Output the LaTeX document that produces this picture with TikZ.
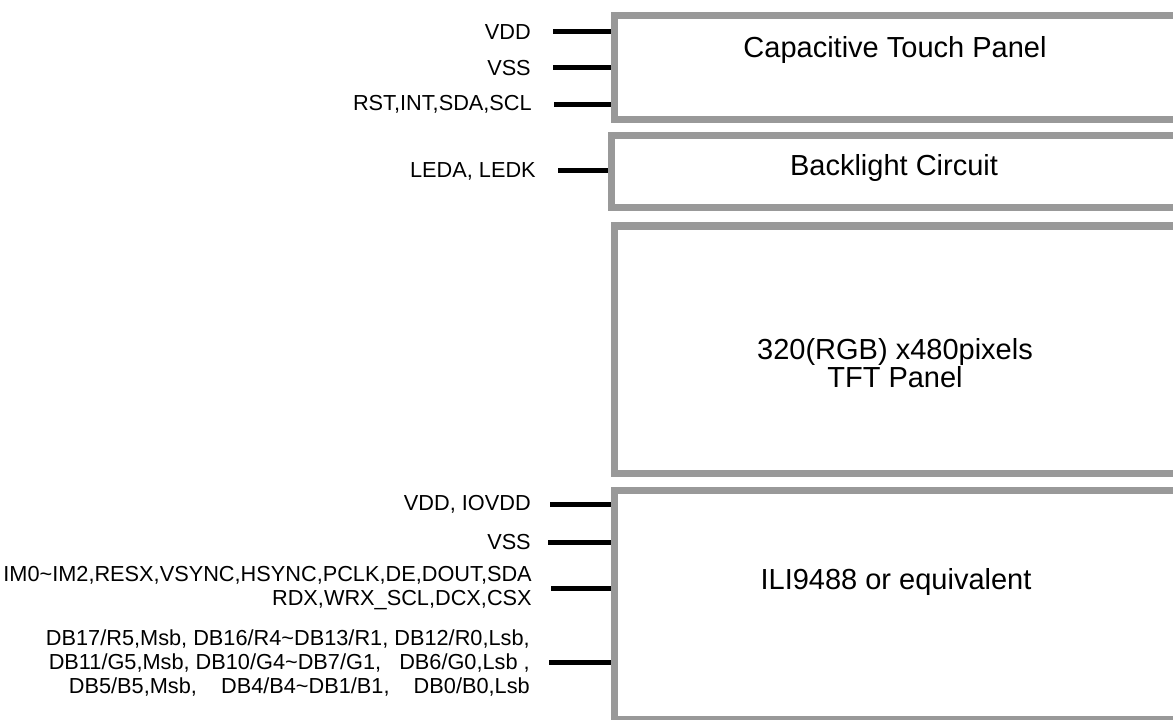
\documentclass[tikz,border=0pt]{standalone}
\usepackage{fontspec}
\setmainfont{Liberation Sans}
\definecolor{boxgray}{RGB}{153,153,153}
\begin{document}
\begin{tikzpicture}[x=0.75pt,y=-0.75pt,
  panel/.style={draw=boxgray, line width=5.6pt, inner sep=0pt, anchor=north west, minimum width=450pt},
  lead/.style={line width=3.75pt, black},
  pin/.style={anchor=east, inner sep=0pt, font=\fontsize{16.3pt}{17.9pt}\selectfont, align=right},
  title/.style={inner sep=0pt, font=\fontsize{21.75pt}{19.5pt}\selectfont, align=center}]
\useasboundingbox (0,0) rectangle (1173,720);
\clip (0,0) rectangle (1173,720);

% boxes
\node[panel, minimum height=78pt] (tp) at (611,12) {};
\node[panel, minimum height=54pt] (bl) at (608,132) {};
\node[panel, minimum height=185.25pt] (tft) at (611,222.5) {};
\node[panel, minimum height=172.1pt] (ic) at (611,487) {};

% titles
\node[title] (ttp) at (895,50) {Capacitive Touch Panel};
\node[title] (tbl) at (894,168) {Backlight Circuit};
\node[title] (ttft) at (895,363) {320(RGB) x480pixels\\TFT Panel};
\node[title] (tic) at (896,582) {ILI9488 or equivalent};

% touch panel pins
\coordinate (p1) at (553,31.7);
\coordinate (p2) at (553,67.7);
\coordinate (p3) at (554,104.3);
\draw[lead] (p1) -- (p1 -| tp.west);
\draw[lead] (p2) -- (p2 -| tp.west);
\draw[lead] (p3) -- (p3 -| tp.west);
\node[pin] (lp1) at (531,31.7) {VDD};
\node[pin] (lp2) at (531,67.7) {VSS};
\node[pin] (lp3) at (532,104.3) {RST,INT,SDA,SCL};

% backlight pin
\coordinate (p4) at (558,171);
\draw[lead] (p4) -- (p4 -| bl.west);
\node[pin] (lp4) at (536,171) {LEDA, LEDK};

% driver IC pins
\coordinate (p5) at (550,504);
\coordinate (p6) at (548,542);
\coordinate (p7) at (551,588);
\coordinate (p8) at (549,662);
\draw[lead] (p5) -- (p5 -| ic.west);
\draw[lead] (p6) -- (p6 -| ic.west);
\draw[lead] (p7) -- (p7 -| ic.west);
\draw[lead] (p8) -- (p8 -| ic.west);
\node[pin] (lp5) at (531,504) {VDD, IOVDD};
\node[pin] (lp6) at (531,542) {VSS};
\node[pin] (lp7) at (532,588) {IM0\textasciitilde IM2,RESX,VSYNC,HSYNC,PCLK,DE,DOUT,SDA\\RDX,WRX\_SCL,DCX,CSX};
\node[pin] (lp8) at (530,663) {DB17/R5,Msb, DB16/R4\textasciitilde DB13/R1, DB12/R0,Lsb,\\DB11/G5,Msb, DB10/G4\textasciitilde DB7/G1,\ \ \ DB6/G0,Lsb ,\\DB5/B5,Msb,\ \ \ \ DB4/B4\textasciitilde DB1/B1,\ \ \ \ DB0/B0,Lsb};
\end{tikzpicture}
\end{document}
